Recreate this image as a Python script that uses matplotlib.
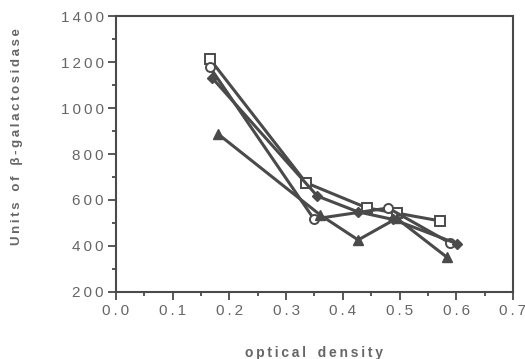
import matplotlib.pyplot as plt
from matplotlib.ticker import MultipleLocator

# optical density vs units of beta-galactosidase, four cultures
od_sq = [0.165, 0.335, 0.443, 0.495, 0.571]
gal_sq = [1215, 675, 565, 543, 509]
od_ci = [0.165, 0.349, 0.480, 0.589]
gal_ci = [1180, 517, 565, 413]
od_di = [0.170, 0.355, 0.427, 0.489, 0.601]
gal_di = [1130, 617, 548, 515, 410]
od_tr = [0.180, 0.360, 0.427, 0.495, 0.584]
gal_tr = [887, 535, 426, 520, 350]

plt.rcParams['font.family'] = ['Liberation Sans', 'DejaVu Sans']
grey = '#4a4a4a'
txt = '#666666'


def spaced(s, sp='\u2009'):
    # the old typewriter-ish labels are letter-spaced
    return sp.join(s)


fig = plt.figure(figsize=(5.25, 3.59), dpi=100)
ax = fig.add_axes([0.221, 0.187, 0.756, 0.768])

kw = dict(color=grey, lw=2.2, ms=6.5, mew=1.4)
ax.plot(od_sq, gal_sq, marker='s', mfc='white', **kw)
ax.plot(od_ci, gal_ci, marker='o', mfc='white', **kw)
ax.plot(od_di, gal_di, marker='D', mfc=grey, ms=5, color=grey, lw=2.2)
ax.plot(od_tr, gal_tr, marker='^', mfc=grey, ms=6.5, color=grey, lw=2.2)

ax.set_xlim(0, 0.7)
ax.set_ylim(200, 1400)
ax.xaxis.set_major_locator(MultipleLocator(0.1))
ax.xaxis.set_minor_locator(MultipleLocator(0.05))
ax.yaxis.set_major_locator(MultipleLocator(200))
ax.yaxis.set_minor_locator(MultipleLocator(100))
ax.xaxis.set_major_formatter(plt.FuncFormatter(lambda v, p: spaced(f'{v:.1f}')))
ax.yaxis.set_major_formatter(plt.FuncFormatter(lambda v, p: spaced(f'{v:.0f}')))

for s in ax.spines.values():
    s.set_color(grey)
    s.set_linewidth(1.5)
ax.tick_params(which='major', direction='out', length=6, width=1.3, color=grey,
               labelsize=11, labelcolor=txt, top=False, right=False, pad=3)
ax.tick_params(which='minor', direction='out', length=3, width=1.3, color=grey,
               top=False, right=False)

ax.set_xlabel(spaced('optical') + '   ' + spaced('density'), fontsize=10,
              fontweight='bold', color=txt, labelpad=20)
ax.set_ylabel(spaced('Units') + '   ' + spaced('of') + '   ' + spaced('β-galactosidase'),
              fontsize=9.5, fontweight='bold', color=txt)
ax.yaxis.set_label_coords(-0.235, 0.565)

fig.savefig('out.png', dpi=100)
